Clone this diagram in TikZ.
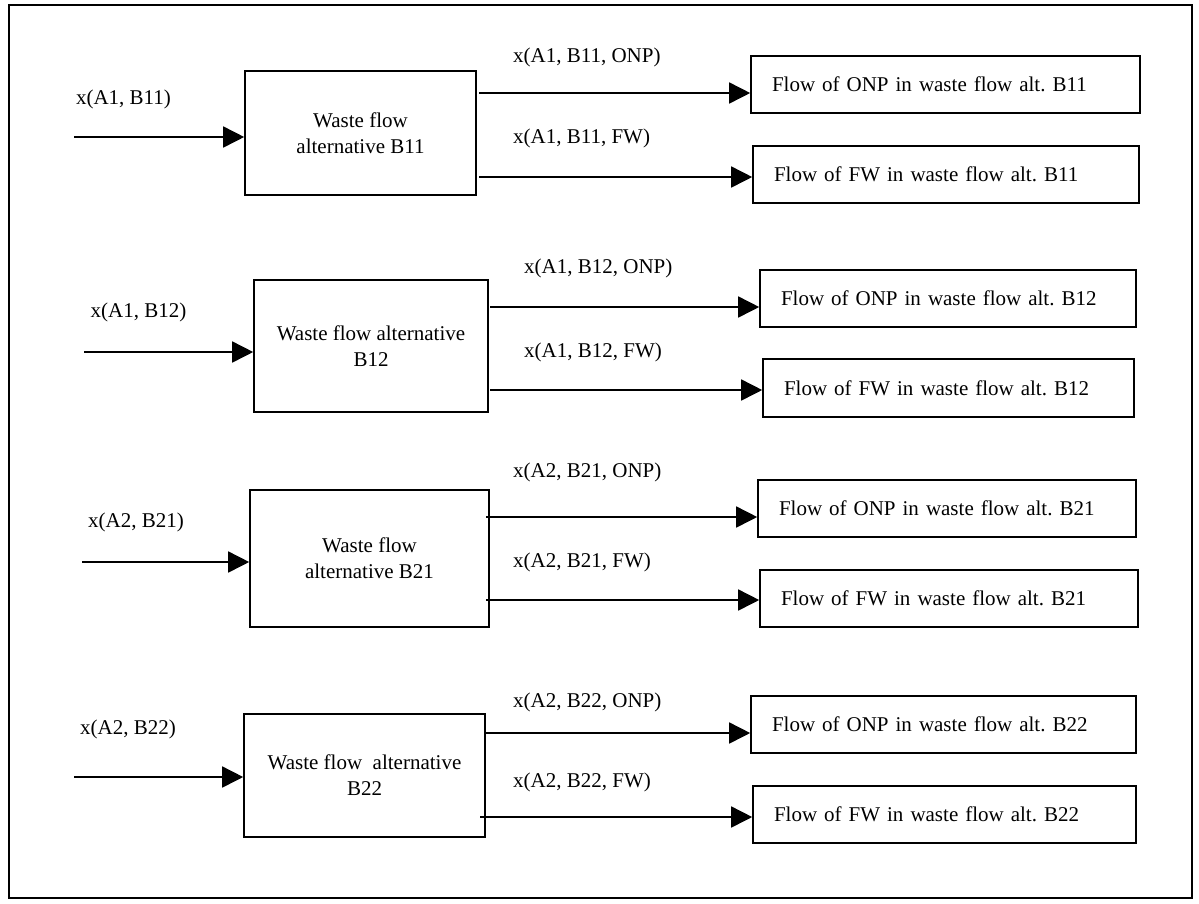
\documentclass[tikz,border=0pt]{standalone}
\usepackage{fontspec}
\setmainfont{Liberation Serif}
\usetikzlibrary{arrows.meta}
\frenchspacing
\begin{document}
\begin{tikzpicture}[x=1pt,y=-1pt,
  every node/.style={font=\fontsize{21}{26}\selectfont},
  wbox/.style={draw, line width=1.6pt, align=center, inner sep=0pt},
  obox/.style={draw, line width=1.6pt, align=left, inner xsep=21pt, inner ysep=0pt, minimum height=57pt},
  lbl/.style={inner sep=0pt},
  arr/.style={line width=1.6pt, -{Triangle[length=21pt,width=21pt]}}]
\useasboundingbox (0,0) rectangle (1199,903);
\draw[line width=1.6pt] (9,5) rectangle (1192,898);

% ---------- Row 1 ----------
\node[wbox, minimum width=231pt, minimum height=124pt] (b1) at (360.5,133) {Waste flow\\alternative B11};
\node[obox, text width=347pt] (o1a) at (945.5,84.5) {Flow of ONP in waste flow alt. B11};
\node[obox, text width=344pt] (o1b) at (946,174.5) {Flow of FW in waste flow alt. B11};
\node[lbl] (l1) at (123.5,99) {x(A1, B11)};
\node[lbl, anchor=west] (l1a) at (513,57) {x(A1, B11, ONP)};
\node[lbl, anchor=west] (l1b) at (513,138) {x(A1, B11, FW)};
\coordinate (i1) at (74,137);
\coordinate (s1a) at (479,93);
\coordinate (s1b) at (479,177);
\draw[arr] (i1) -- (b1.west |- i1);
\draw[arr] (s1a) -- (o1a.west |- s1a);
\draw[arr] (s1b) -- (o1b.west |- s1b);

% ---------- Row 2 ----------
\node[wbox, minimum width=234pt, minimum height=132pt] (b2) at (371,346) {Waste flow alternative\\B12};
\node[obox, text width=334pt] (o2a) at (948,298.5) {Flow of ONP in waste flow alt. B12};
\node[obox, text width=329pt, minimum height=58pt] (o2b) at (948.5,388) {Flow of FW in waste flow alt. B12};
\node[lbl] (l2) at (138.5,312) {x(A1, B12)};
\node[lbl, anchor=west] (l2a) at (524,268) {x(A1, B12, ONP)};
\node[lbl, anchor=west] (l2b) at (524,352) {x(A1, B12, FW)};
\coordinate (i2) at (84,352);
\coordinate (s2a) at (490,307);
\coordinate (s2b) at (490,390);
\draw[arr] (i2) -- (b2.west |- i2);
\draw[arr] (s2a) -- (o2a.west |- s2a);
\draw[arr] (s2b) -- (o2b.west |- s2b);

% ---------- Row 3 ----------
\node[wbox, minimum width=239pt, minimum height=137pt] (b3) at (369.5,558.5) {Waste flow\\alternative B21};
\node[obox, text width=336pt] (o3a) at (947,508.5) {Flow of ONP in waste flow alt. B21};
\node[obox, text width=336pt] (o3b) at (949,598.5) {Flow of FW in waste flow alt. B21};
\node[lbl] (l3) at (136,522) {x(A2, B21)};
\node[lbl, anchor=west] (l3a) at (513,472) {x(A2, B21, ONP)};
\node[lbl, anchor=west] (l3b) at (513,562) {x(A2, B21, FW)};
\coordinate (i3) at (82,562);
\coordinate (s3a) at (486,517);
\coordinate (s3b) at (486,600);
\draw[arr] (i3) -- (b3.west |- i3);
\draw[arr] (s3a) -- (o3a.west |- s3a);
\draw[arr] (s3b) -- (o3b.west |- s3b);

% ---------- Row 4 ----------
\node[wbox, minimum width=241pt, minimum height=123pt] (b4) at (364.5,775.5) {Waste flow\ \ alternative\\B22};
\node[obox, text width=343pt] (o4a) at (943.5,724.5) {Flow of ONP in waste flow alt. B22};
\node[obox, text width=341pt] (o4b) at (944.5,814.5) {Flow of FW in waste flow alt. B22};
\node[lbl] (l4) at (128,729) {x(A2, B22)};
\node[lbl, anchor=west] (l4a) at (513,702) {x(A2, B22, ONP)};
\node[lbl, anchor=west] (l4b) at (513,782) {x(A2, B22, FW)};
\coordinate (i4) at (74,777);
\coordinate (s4a) at (485,733);
\coordinate (s4b) at (480,817);
\draw[arr] (i4) -- (b4.west |- i4);
\draw[arr] (s4a) -- (o4a.west |- s4a);
\draw[arr] (s4b) -- (o4b.west |- s4b);
\end{tikzpicture}
\end{document}
